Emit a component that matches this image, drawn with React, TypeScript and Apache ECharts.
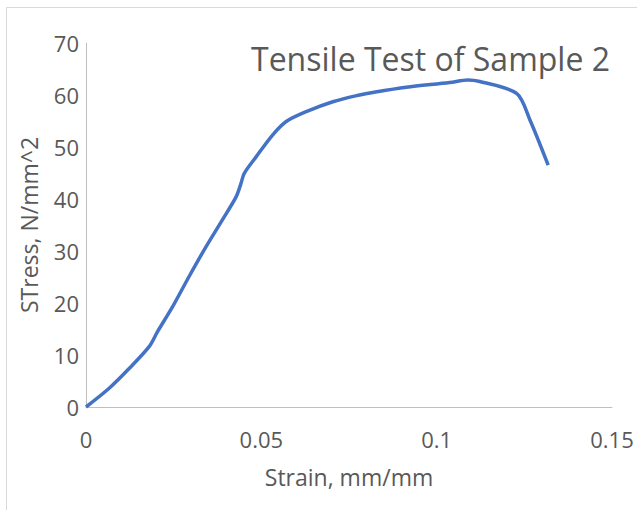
import React, { useEffect, useRef } from "react";
import * as echarts from "echarts";

const strain = [0, 0.0066, 0.0123, 0.018, 0.0204, 0.0247, 0.0294, 0.0342, 0.0389, 0.0428, 0.0442, 0.0451, 0.0485, 0.0532, 0.0571, 0.0628, 0.0704, 0.078, 0.0818, 0.0913, 0.1037, 0.1089, 0.1123, 0.1228, 0.1266, 0.1318];
const stress = [0, 3.6, 7.4, 11.6, 14.5, 19.3, 25.1, 30.8, 36.0, 40.4, 43.0, 44.9, 48.1, 52.3, 54.9, 56.8, 58.7, 60.0, 60.5, 61.5, 62.4, 62.9, 62.6, 60.3, 55.2, 46.5];

const titleText = "Tensile Test of Sample 2";
const xName = "Strain, mm/mm";
const yName = "STress, N/mm^2";

const FONT = "'Open Sans', sans-serif";
const GRAY = "#595959";

export default function App() {
  const ref = useRef<HTMLDivElement>(null);
  useEffect(() => {
    if (!ref.current) return;
    const chart = echarts.init(ref.current, null, { renderer: "svg" });
    const data = strain.map((x, i) => [x, stress[i]]);
    chart.setOption({
      animation: false,
      backgroundColor: "#ffffff",
      title: {
        text: titleText,
        right: 22,
        top: 37,
        textStyle: { fontSize: 32, fontWeight: "normal", color: GRAY, fontFamily: FONT },
      },
      graphic: [
        {
          type: "rect",
          shape: { x: 6.5, y: 7.5, width: 700, height: 600 },
          style: { fill: "none", stroke: "#d9d9d9", lineWidth: 1 },
          silent: true,
        },
      ],
      grid: { left: 86, top: 43, right: 25, bottom: 103 },
      xAxis: {
        type: "value",
        min: 0,
        max: 0.15,
        interval: 0.05,
        name: xName,
        nameLocation: "middle",
        nameGap: 58,
        nameTextStyle: { fontSize: 23, color: GRAY, fontFamily: FONT },
        axisLine: { show: true, lineStyle: { color: "#bfbfbf", width: 1 } },
        axisTick: { show: false },
        splitLine: { show: false },
        axisLabel: { fontSize: 22, color: GRAY, fontFamily: FONT, margin: 21 },
      },
      yAxis: {
        type: "value",
        min: 0,
        max: 70,
        interval: 10,
        name: yName,
        nameLocation: "middle",
        nameGap: 46,
        nameTextStyle: { fontSize: 23, color: GRAY, fontFamily: FONT },
        axisLine: { show: true, lineStyle: { color: "#bfbfbf", width: 1 } },
        axisTick: { show: false },
        splitLine: { show: false },
        axisLabel: { fontSize: 22, color: GRAY, fontFamily: FONT, margin: 7 },
      },
      series: [
        {
          type: "line",
          data,
          smooth: 0.3,
          symbol: "none",
          lineStyle: { color: "#4472C4", width: 3.5 },
        },
      ],
    });
    return () => chart.dispose();
  }, []);
  return (
    <div
      ref={ref}
      style={{ position: "fixed", left: 0, top: 0, width: 637, height: 510, background: "#fff" }}
    />
  );
}
